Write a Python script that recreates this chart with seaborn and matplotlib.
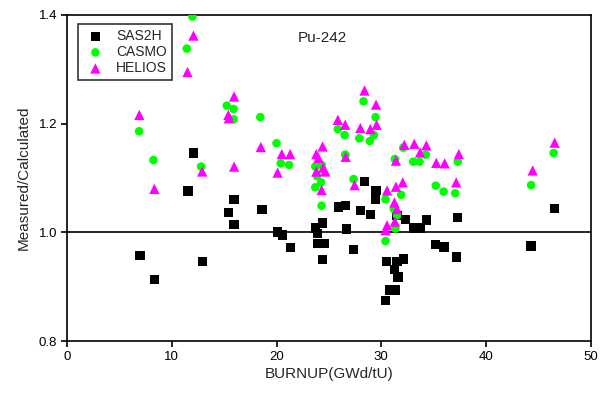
import numpy as np
import pandas as pd
import matplotlib
matplotlib.use("Agg")
import matplotlib.pyplot as plt
import seaborn as sns

# values
sas2h_x = [6.97, 8.34, 12.9, 11.56, 12.07, 15.95, 15.4, 15.95, 18.6, 20.1, 20.6, 21.3,
           23.7, 24.4, 23.9, 23.95, 24.6, 24.4, 25.9, 26.6, 26.65, 27.35, 28.0, 28.4,
           29.0, 29.5, 29.45, 30.5, 30.4, 30.8, 31.3, 31.25, 31.6, 31.5, 32.1, 32.3,
           33.1, 33.7, 34.3, 35.2, 36.0, 37.15, 37.3, 44.3, 46.55, 31.5]
sas2h_y = [0.957, 0.913, 0.946, 1.076, 1.146, 1.060, 1.036, 1.015, 1.042, 1.001, 0.995, 0.972,
           1.008, 1.017, 0.998, 0.980, 0.980, 0.950, 1.047, 1.049, 1.006, 0.969, 1.040, 1.094,
           1.033, 1.077, 1.061, 0.946, 0.875, 0.894, 0.894, 0.932, 0.918, 0.946, 0.951, 1.024,
           1.008, 1.008, 1.023, 0.978, 0.973, 0.955, 1.027, 0.975, 1.044, 1.031]

casmo_x = [11.97, 11.43, 6.88, 8.25, 12.8, 15.25, 15.9, 15.9, 18.45, 20.0, 20.4, 21.2,
           23.7, 24.3, 23.85, 24.25, 23.7, 24.3, 25.85, 26.5, 27.9, 28.9, 29.3, 28.3,
           29.45, 26.55, 27.35, 31.3, 33.05, 33.65, 32.1, 34.25, 35.2, 35.95, 30.4, 31.9,
           31.2, 31.5, 31.35, 30.4, 37.05, 37.3, 44.3, 46.45]
casmo_y = [1.397, 1.338, 1.186, 1.133, 1.121, 1.233, 1.227, 1.208, 1.212, 1.164, 1.127, 1.124,
           1.121, 1.124, 1.104, 1.092, 1.083, 1.049, 1.190, 1.179, 1.173, 1.168, 1.179, 1.241,
           1.212, 1.143, 1.098, 1.135, 1.130, 1.130, 1.156, 1.143, 1.086, 1.075, 1.061, 1.069,
           1.043, 1.031, 1.007, 0.984, 1.072, 1.130, 1.087, 1.146]

helios_x = [12.07, 11.5, 6.9, 8.34, 12.9, 15.95, 15.4, 15.45, 15.95, 18.5, 20.5, 21.3,
            20.1, 23.8, 24.4, 24.0, 23.8, 24.45, 24.65, 24.3, 26.6, 25.85, 26.55, 28.0,
            28.4, 29.5, 29.55, 28.95, 27.45, 32.2, 33.15, 34.3, 33.7, 31.4, 35.25, 36.05,
            30.55, 31.4, 32.05, 31.25, 31.5, 31.3, 30.55, 30.4, 37.4, 37.15, 44.45, 46.55]
helios_y = [1.362, 1.295, 1.216, 1.080, 1.112, 1.250, 1.216, 1.210, 1.121, 1.157, 1.144, 1.144,
            1.110, 1.144, 1.158, 1.137, 1.112, 1.119, 1.112, 1.078, 1.139, 1.207, 1.198, 1.192,
            1.261, 1.235, 1.198, 1.190, 1.087, 1.161, 1.163, 1.160, 1.147, 1.132, 1.128, 1.127,
            1.077, 1.084, 1.092, 1.055, 1.043, 1.020, 1.013, 1.004, 1.144, 1.092, 1.114, 1.165]

x_ticks = [0, 10, 20, 30, 40, 50]
y_ticks = [0.8, 1.0, 1.2, 1.4]

sns.set_style("ticks")
plt.rcParams['font.family'] = ['Liberation Sans', 'DejaVu Sans']

fig = plt.figure(figsize=(6, 3.93), dpi=100)
ax = fig.add_axes([0.1117, 0.132, 0.873, 0.83])

# reference line at ratio 1
ax.axhline(1.0, color="black", lw=1.2, zorder=1)

sns.scatterplot(x=sas2h_x, y=sas2h_y, ax=ax, marker="s", s=45, color="black",
                edgecolor="none", label="SAS2H", zorder=3)
sns.scatterplot(x=casmo_x, y=casmo_y, ax=ax, marker="o", s=38, color="#00ff00",
                edgecolor="none", label="CASMO", zorder=4)
sns.scatterplot(x=helios_x, y=helios_y, ax=ax, marker="^", s=55, color="#ff00ff",
                edgecolor="none", label="HELIOS", zorder=5)

ax.set_xlim(0, 50)
ax.set_ylim(0.8, 1.4)
ax.set_xticks(x_ticks)
ax.set_yticks(y_ticks)
ax.set_yticklabels([f"{v:.1f}" for v in y_ticks])
ax.tick_params(direction="out", length=4, width=1.2, labelsize=9.5, colors="black", pad=3)
for sp in ax.spines.values():
    sp.set_linewidth(1.2)
    sp.set_color("black")

ax.set_xlabel("BURNUP(GWd/tU)", fontsize=11, labelpad=3)
ax.set_ylabel("Measured/Calculated", fontsize=11, labelpad=6)
ax.text(24.4, 1.357, "Pu-242", fontsize=11, ha="center", va="center")

leg = ax.legend(loc="upper left", bbox_to_anchor=(0.021, 0.972), borderaxespad=0,
                fancybox=False, frameon=True, fontsize=10, handletextpad=0.6,
                labelspacing=0.15, borderpad=0.35, handlelength=1.8)
leg.get_frame().set_edgecolor("black")
leg.get_frame().set_linewidth(1.2)

plt.savefig("out.png", dpi=100)
